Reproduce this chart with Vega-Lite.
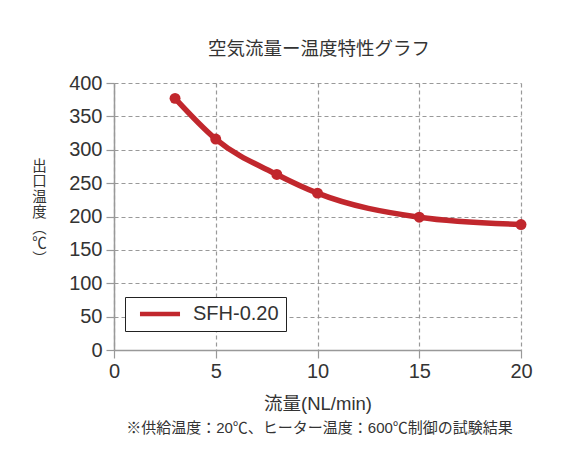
{
  "$schema": "https://vega.github.io/schema/vega-lite/v6.json",
  "background": "white",
  "padding": {"left": 31, "top": 39, "right": 5, "bottom": 5},
  "title": {
    "text": "空気流量ー温度特性グラフ",
    "fontSize": 18.5,
    "font": "Noto Sans CJK JP",
    "fontWeight": "normal",
    "color": "#333",
    "anchor": "middle",
    "offset": 15,
    "dx": 37
  },
  "vconcat": [
    {
      "width": 407,
      "height": 267,
      "title": {
        "text": "※供給温度：20℃、ヒーター温度：600℃制御の試験結果",
        "orient": "bottom",
        "fontSize": 15,
        "font": "Liberation Sans, Noto Sans CJK JP",
        "fontWeight": "normal",
        "color": "#333",
        "anchor": "middle",
        "offset": 8,
        "dx": 2
      },
      "data": {
        "values": [
          {"flow": 3, "temp": 377, "series": "SFH-0.20"},
          {"flow": 5, "temp": 316, "series": "SFH-0.20"},
          {"flow": 8, "temp": 263, "series": "SFH-0.20"},
          {"flow": 10, "temp": 235, "series": "SFH-0.20"},
          {"flow": 15, "temp": 199, "series": "SFH-0.20"},
          {"flow": 20, "temp": 188, "series": "SFH-0.20"}
        ]
      },
      "encoding": {
        "x": {
          "field": "flow",
          "type": "quantitative",
          "scale": {"domain": [0, 20], "nice": false},
          "axis": {
            "values": [0, 5, 10, 15, 20],
            "title": "流量(NL/min)",
            "titleFontSize": 18.5,
            "titlePadding": 13
          }
        },
        "y": {
          "field": "temp",
          "type": "quantitative",
          "scale": {"domain": [0, 400], "nice": false},
          "axis": {
            "values": [0, 50, 100, 150, 200, 250, 300, 350, 400],
            "title": ["出", "口", "温", "度", "︵", "℃", "︶"],
            "titleAngle": 0,
            "titleAlign": "center",
            "titleBaseline": "middle",
            "titleLineHeight": 15.5,
            "titleFontSize": 14.5,
            "titleX": -75,
            "titleY": 83
          }
        }
      },
      "layer": [
        {
          "mark": {"type": "line", "interpolate": "monotone", "strokeWidth": 5.5, "strokeCap": "round"},
          "encoding": {
            "color": {
              "field": "series",
              "type": "nominal",
              "scale": {"range": ["#c1272d"]},
              "legend": {
                "title": null,
                "orient": "none",
                "legendX": 11,
                "legendY": 214,
                "symbolType": "M-3,0H3",
                "symbolSize": 178,
                "symbolOffset": 18,
                "symbolStrokeWidth": 4.5,
                "symbolStrokeColor": "#c1272d",
                "labelFontSize": 20,
                "labelColor": "#333",
                "labelOffset": 23,
                "padding": 7,
                "strokeColor": "#222",
                "fillColor": "white"
              }
            }
          }
        },
        {
          "mark": {"type": "circle", "size": 120, "opacity": 1, "color": "#c1272d"}
        }
      ]
    }
  ],
  "config": {
    "font": "Liberation Sans, Noto Sans CJK JP",
    "view": {"stroke": null},
    "axis": {
      "labelFontSize": 20,
      "labelColor": "#333",
      "labelFlush": false,
      "titleColor": "#333",
      "titleFontWeight": "normal",
      "titleFont": "Liberation Sans, Noto Sans CJK JP",
      "domainColor": "#999",
      "domainWidth": 1.5,
      "tickColor": "#999",
      "tickWidth": 1.2,
      "tickSize": 8,
      "labelPadding": 3,
      "gridColor": "#999",
      "gridDash": [4, 3],
      "gridWidth": 1.2,
      "gridOpacity": 1
    },
    "axisY": {"labelPadding": 4}
  }
}
